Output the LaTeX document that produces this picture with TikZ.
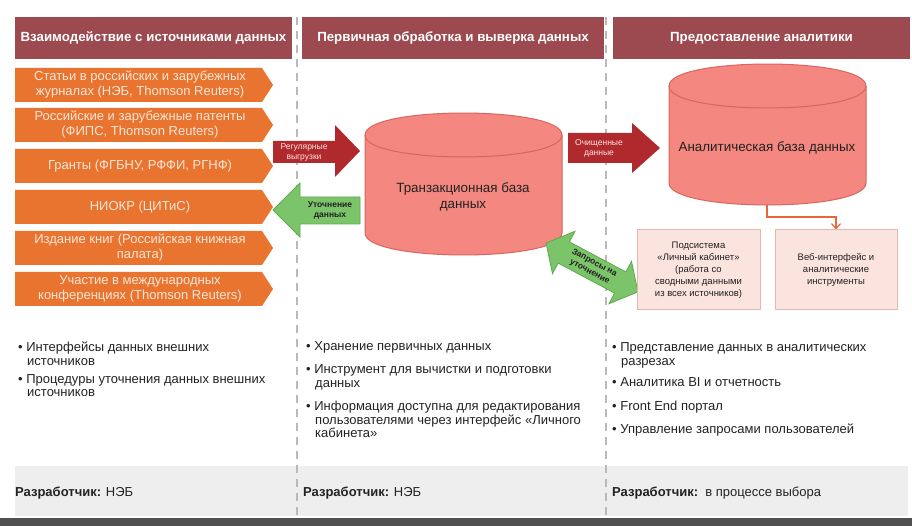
\documentclass[tikz,border=0pt]{standalone}
\usepackage{fontspec}
\setmainfont{Liberation Sans}
\usetikzlibrary{arrows.meta}
\definecolor{hdr}{HTML}{9C4A4F}
\definecolor{org}{HTML}{E9742F}
\definecolor{orgtxt}{HTML}{FCE6D8}
\definecolor{redar}{HTML}{B0292D}
\definecolor{grn}{HTML}{7CC46A}
\definecolor{grnline}{HTML}{5EA84E}
\definecolor{cyl}{HTML}{F4877F}
\definecolor{cylline}{HTML}{D9655E}
\definecolor{pbox}{HTML}{FBE3DE}
\definecolor{pboxline}{HTML}{E6B7AE}
\definecolor{conn}{HTML}{E8663A}
\definecolor{band}{HTML}{EEEEEE}
\definecolor{dark}{HTML}{505050}
\definecolor{txt}{HTML}{222222}
\newcommand\obox[3]{%
  \fill[org] (15,#2) -- (262,#2) -- (273,#2+17) -- (262,#2+34) -- (15,#2+34) -- cycle;
  \node[otext] (#1) at (140,#2+17) {#3};}
\newcommand\tline[4]{\node[bl] (#1) at (#2,#3) {#4};}
\begin{document}
\begin{tikzpicture}[x=1pt,y=-1pt,
  hdrbox/.style={fill=hdr, text=white, inner sep=0, minimum height=42,
    font=\fontsize{13.3}{15}\selectfont\bfseries},
  otext/.style={text=orgtxt, align=center, inner sep=0,
    font=\fontsize{13}{15}\selectfont},
  atext/.style={align=center, inner sep=0, font=\fontsize{8.5}{10}\selectfont},
  cyltext/.style={align=center, inner sep=0, text=txt, font=\fontsize{13.4}{15.5}\selectfont},
  pboxs/.style={fill=pbox, draw=pboxline, line width=1pt, align=center, inner sep=0,
    minimum height=80, text=txt, font=\fontsize{9.5}{12}\selectfont},
  bl/.style={anchor=west, inner sep=0, text height=9, text depth=3, text=txt,
    font=\fontsize{13}{14}\selectfont},
  sep/.style={draw=gray!55, line width=1.6pt, dash pattern=on 8pt off 6pt},
  conn/.style={draw=conn, line width=1.2pt, -{Straight Barb[length=5pt,width=9pt]}},
]
\useasboundingbox (0,0) rectangle (912,526);
\fill[white] (0,0) rectangle (912,526);
% bottom bands
\fill[band] (15,466) rectangle (908,516);
\fill[dark] (0,518) rectangle (912,526);
% separators
\draw[sep] (297,17) -- (297,516);
\draw[sep] (606,17) -- (606,516);
% headers
\node[hdrbox, minimum width=277] (h1) at (153.5,38) {Взаимодействие с источниками данных};
\node[hdrbox, minimum width=302] (h2) at (453,38) {Первичная обработка и выверка данных};
\node[hdrbox, minimum width=297] (h3) at (761.5,38) {Предоставление аналитики};
% orange sources
\obox{s1}{68}{Статьи в российских и зарубежных\\журналах (НЭБ, Thomson Reuters)}
\obox{s2}{108}{Российские и зарубежные патенты\\(ФИПС, Thomson Reuters)}
\obox{s3}{149}{Гранты (ФГБНУ, РФФИ, РГНФ)}
\obox{s4}{190}{НИОКР (ЦИТиС)}
\obox{s5}{231}{Издание книг (Российская книжная\\палата)}
\obox{s6}{272}{Участие в международных\\конференциях (Thomson Reuters)}
% transaction DB cylinder
\path[fill=cyl, draw=cylline, line width=1pt] (365,135) -- (365,233)
  .. controls (365,262.3) and (562,262.3) .. (562,233) -- (562,135)
  .. controls (562,105.7) and (365,105.7) .. (365,135) -- cycle;
\draw[cylline, line width=1pt] (365,135) .. controls (365,164.3) and (562,164.3) .. (562,135);
\node[cyltext] (tdb) at (463,197) {Транзакционная база\\данных};
% analytic DB cylinder
\path[fill=cyl, draw=cylline, line width=1pt] (669,86) -- (669,183)
  .. controls (669,212.3) and (866,212.3) .. (866,183) -- (866,86)
  .. controls (866,56.7) and (669,56.7) .. (669,86) -- cycle;
\draw[cylline, line width=1pt] (669,86) .. controls (669,115.3) and (866,115.3) .. (866,86);
\node[cyltext] (adb) at (767,148) {Аналитическая база данных};
\coordinate (adbB) at (767,205);
% block arrows
\fill[redar] (273,141) -- (335,141) -- (335,125) -- (360,151) -- (335,177) -- (335,163) -- (273,163) -- cycle;
\node[atext, text=white!90!red] (ar1) at (304,152) {Регулярные\\выгрузки};
\path[fill=grn, draw=grnline, line width=0.8pt] (360,197) -- (300,197) -- (300,183) -- (273,210) -- (300,237) -- (300,224) -- (360,224) -- cycle;
\node[atext, text=txt, font=\fontsize{8.5}{10}\selectfont\bfseries] (ar2) at (330,210) {Уточнение\\данных};
\fill[redar] (568,133) -- (632,133) -- (632,123) -- (660,148) -- (632,173) -- (632,163) -- (568,163) -- cycle;
\node[atext, text=white!90!red] (ar3) at (599,148) {Очищенные\\данные};
\begin{scope}[shift={(592,267.5)}, rotate=-28]
\path[fill=grn, draw=grnline, line width=0.8pt] (-52,0) -- (-32,-24) -- (-32,-12) -- (32,-12) -- (32,-24) -- (52,0) -- (32,24) -- (32,12) -- (-32,12) -- (-32,24) -- cycle;
\end{scope}
\node[atext, text=txt, rotate=-28, font=\fontsize{8.5}{10}\selectfont\bfseries] (ar4) at (592,267.5) {Запросы на\\уточнение};
% presentation boxes
\node[pboxs, minimum width=123] (b1) at (698.5,270) {Подсистема\\«Личный кабинет»\\(работа со\\сводными данными\\из всех источников)};
\node[pboxs, minimum width=122] (b2) at (836,270) {Веб-интерфейс и\\аналитические\\инструменты};
\draw[conn] (adbB) -- (767,217) -| (b2.north);
% bullet lists column 1
\tline{c1a}{18}{348}{• Интерфейсы данных внешних}
\tline{c1b}{27}{362}{источников}
\tline{c1c}{18}{380}{• Процедуры уточнения данных внешних}
\tline{c1d}{27}{393}{источников}
% column 2
\tline{c2a}{306}{347}{• Хранение первичных данных}
\tline{c2b}{306}{370}{• Инструмент для вычистки и подготовки}
\tline{c2c}{315}{384}{данных}
\tline{c2d}{306}{407}{• Информация доступна для редактирования}
\tline{c2e}{315}{421}{пользователями через интерфейс «Личного}
\tline{c2f}{315}{434}{кабинета»}
% column 3
\tline{c3a}{612}{348}{• Представление данных в аналитических}
\tline{c3b}{621}{362}{разрезах}
\tline{c3c}{612}{383}{• Аналитика BI и отчетность}
\tline{c3d}{612}{407}{• Front End портал}
\tline{c3e}{612}{430}{• Управление запросами пользователей}
% developers
\tline{d1}{15}{493}{\textbf{Разработчик:} НЭБ}
\tline{d2}{303}{493}{\textbf{Разработчик:} НЭБ}
\tline{d3}{612}{493}{\textbf{Разработчик:}\ \ в процессе выбора}
\end{tikzpicture}
\end{document}
